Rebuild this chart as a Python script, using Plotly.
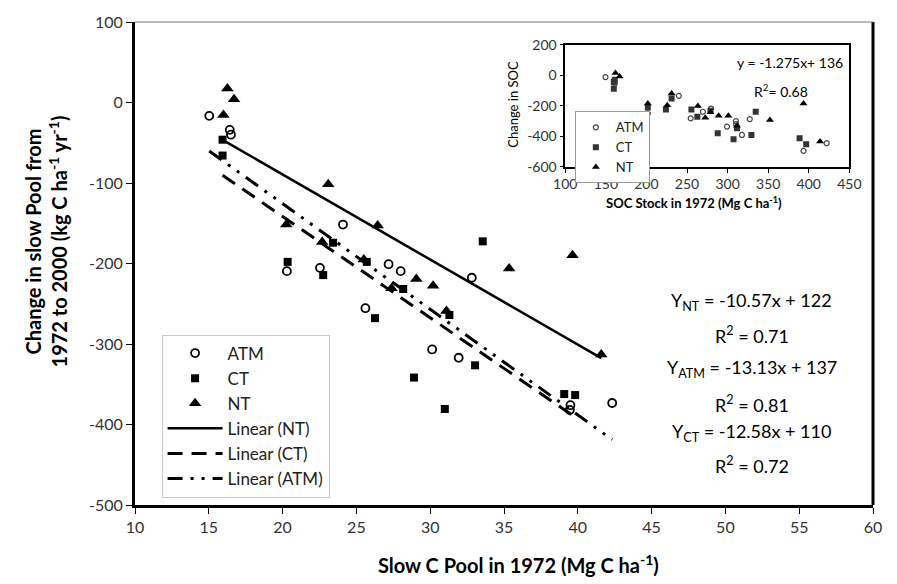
import plotly.graph_objects as go

# ---- main panel: slow C pool in 1972 vs change in slow pool ----
atm_x = [15.03, 16.42, 16.5, 24.09, 20.29, 22.53, 27.18, 28.0, 25.61, 30.13, 32.82, 31.93, 42.33, 39.46, 39.5]
atm_y = [-16.6, -34, -40, -151.6, -209.5, -205.4, -200.9, -209.5, -255.5, -306.8, -217.7, -317.1, -373.3, -381.9, -376]

ct_x = [15.93, 15.93, 23.42, 20.34, 22.75, 25.7, 28.17, 26.26, 28.9, 33.56, 31.3, 33.04, 30.99, 39.08, 39.82]
ct_y = [-46.2, -65.9, -174.2, -198, -214.4, -198, -231.7, -267.9, -341.7, -172.5, -264, -326.5, -380.7, -362.2, -363.4]

nt_x = [16.26, 16.71, 15.99, 23.09, 20.25, 26.44, 22.68, 25.5, 29.06, 30.2, 27.38, 35.35, 39.64, 31.1, 41.59]
nt_y = [17.5, 4, -15.4, -101.6, -151.6, -152.8, -173.4, -195, -219.3, -227.6, -230.9, -206.2, -189.8, -259, -313]

# fitted lines (slope, intercept) as printed on the chart
fit_nt = (-10.57, 122)
fit_atm = (-13.13, 137)
fit_ct = (-12.58, 110)
fit_labels = [
    ("Y<sub>NT</sub> = -10.57x + 122", "R<sup>2</sup> = 0.71"),
    ("Y<sub>ATM</sub> = -13.13x + 137", "R<sup>2</sup> = 0.81"),
    ("Y<sub>CT</sub> = -12.58x + 110", "R<sup>2</sup> = 0.72"),
]

# tick values (labels written with a plain hyphen)
x_ticks = list(range(10, 61, 5))
y_ticks = list(range(-500, 101, 100))

# ---- inset: SOC stock in 1972 vs change in SOC ----
in_atm_x = [149.6, 161, 201.7, 239.9, 254.5, 269.5, 279.7, 299.3, 310.2, 317.6, 327.3, 393.5, 422, 310.5]
in_atm_y = [-12, -55, -250, -135, -282, -239, -218, -336, -300, -391, -287, -495, -445, -320]
in_ct_x = [159.8, 159.8, 161, 201.7, 231, 224, 255.4, 262.7, 278.9, 287.8, 311.5, 307.3, 329.3, 334.6, 388.7, 396.8]
in_ct_y = [-44, -88, -30, -211, -152, -224, -224, -271, -232, -380, -347, -419, -391, -239, -412, -451]
in_nt_x = [161.8, 167, 201.7, 231, 225.6, 263.4, 272.4, 289, 300.9, 311.5, 352.1, 393.5, 413.9, 278.9]
in_nt_y = [14, -8, -185, -120, -196, -202, -278, -265, -265, -330, -293, -185, -434, -242]
in_x_ticks = list(range(100, 451, 50))
in_y_ticks = list(range(-600, 201, 200))

FONT = "Lato, 'Open Sans', sans-serif"


def line_pts(xs, fit):
    x0, x1 = min(xs), max(xs)
    m, b = fit
    return [x0, x1], [m * x0 + b, m * x1 + b]


def hy(v):
    return str(v).replace("\u2212", "-")


fig = go.Figure()

fig.add_trace(go.Scatter(x=atm_x, y=atm_y, mode="markers", name="ATM",
                         marker=dict(symbol="circle-open", size=8, color="black", line=dict(width=1.8))))
fig.add_trace(go.Scatter(x=ct_x, y=ct_y, mode="markers", name="CT",
                         marker=dict(symbol="square", size=8, color="black")))
fig.add_trace(go.Scatter(x=nt_x, y=nt_y, mode="markers", name="NT",
                         marker=dict(symbol="triangle-up", size=11, color="black")))

lx, ly = line_pts(nt_x, fit_nt)
fig.add_trace(go.Scatter(x=lx, y=ly, mode="lines", name="Linear (NT)",
                         line=dict(color="black", width=2.5)))
lx, ly = line_pts(ct_x, fit_ct)
fig.add_trace(go.Scatter(x=lx, y=ly, mode="lines", name="Linear (CT)",
                         line=dict(color="black", width=3, dash="15px,9px")))
lx, ly = line_pts(atm_x, fit_atm)
fig.add_trace(go.Scatter(x=lx, y=ly, mode="lines", name="Linear (ATM)",
                         line=dict(color="black", width=3, dash="15px,8px,3px,8px,3px,8px")))

# inset traces
fig.add_trace(go.Scatter(x=in_atm_x, y=in_atm_y, mode="markers", name="ATM", xaxis="x2", yaxis="y2",
                         legend="legend2",
                         marker=dict(symbol="circle-open", size=5, color="#444", line=dict(width=1.2))))
fig.add_trace(go.Scatter(x=in_ct_x, y=in_ct_y, mode="markers", name="CT", xaxis="x2", yaxis="y2",
                         legend="legend2",
                         marker=dict(symbol="square", size=6, color="#333")))
fig.add_trace(go.Scatter(x=in_nt_x, y=in_nt_y, mode="markers", name="NT", xaxis="x2", yaxis="y2",
                         legend="legend2",
                         marker=dict(symbol="triangle-up", size=7, color="black")))

annotations = []
# fit equations on the right
rows_y = [-247, -289, -330, -374, -410, -450]
texts = [t for pair in fit_labels for t in pair]
for t, yy in zip(texts, rows_y):
    annotations.append(dict(x=51.8, y=yy, xref="x", yref="y", text=t, showarrow=False,
                            font=dict(family=FONT, size=18, color="black"), xanchor="center"))

# inset equation
annotations.append(dict(x=444, y=81, xref="x2", yref="y2", text="y = -1.275x+ 136", showarrow=False,
                        xanchor="right", font=dict(family=FONT, size=14, color="black")))
annotations.append(dict(x=366, y=-100, xref="x2", yref="y2", text="R<sup>2</sup>= 0.68", showarrow=False,
                        xanchor="center", font=dict(family=FONT, size=14, color="black")))

# axis titles
annotations.append(dict(x=-0.121, y=0.545, xref="paper", yref="paper", textangle=-90,
                        xanchor="center", yanchor="middle",
                        text="<b>Change in slow Pool from<br>1972 to 2000 (kg C ha<sup>-1</sup> yr<sup>-1</sup>)</b>",
                        showarrow=False, font=dict(family=FONT, size=20, color="black")))
annotations.append(dict(x=0.52, y=-0.123, xref="paper", yref="paper", xanchor="center", yanchor="middle",
                        text="<b>Slow C Pool in 1972 (Mg C ha<sup>-1</sup>)</b>",
                        showarrow=False, font=dict(family=FONT, size=20, color="black")))
annotations.append(dict(x=0.513, y=0.83, xref="paper", yref="paper", textangle=-90,
                        xanchor="center", yanchor="middle",
                        text="Change in SOC", showarrow=False,
                        font=dict(family=FONT, size=13, color="black")))
annotations.append(dict(x=0.758, y=0.627, xref="paper", yref="paper", xanchor="center", yanchor="middle",
                        text="<b>SOC Stock in 1972 (Mg C ha<sup>-1</sup>)</b>", showarrow=False,
                        font=dict(family=FONT, size=13, color="black")))

shapes = [
    # right and top borders of the main frame
    dict(type="line", xref="paper", yref="paper", x0=1, x1=1, y0=0, y1=1,
         line=dict(color="black", width=3)),
    dict(type="line", xref="paper", yref="paper", x0=0, x1=1, y0=1, y1=1,
         line=dict(color="#777", width=1)),
]

fig.update_layout(
    width=897, height=584,
    margin=dict(l=135, r=17, t=18, b=79),
    paper_bgcolor="white", plot_bgcolor="white",
    font=dict(family=FONT, color="#333"),
    xaxis=dict(range=[10, 60], tickvals=x_ticks, ticktext=[hy(v) for v in x_ticks],
               showgrid=False, zeroline=False,
               showline=True, linecolor="black", linewidth=3,
               ticks="outside", ticklen=6, tickwidth=1, tickcolor="black",
               tickfont=dict(family=FONT, size=16, color="#333")),
    yaxis=dict(range=[-500, 100], tickvals=y_ticks, ticktext=[hy(v) for v in y_ticks],
               showgrid=False, zeroline=False,
               showline=True, linecolor="black", linewidth=3,
               ticks="outside", ticklen=6, tickwidth=1, tickcolor="black",
               tickfont=dict(family=FONT, size=16, color="#333")),
    xaxis2=dict(domain=[0.583, 0.968], anchor="y2", range=[100, 450],
                tickvals=in_x_ticks, ticktext=[hy(v) for v in in_x_ticks],
                showgrid=False, zeroline=False, showline=True, linecolor="black", linewidth=1.5,
                mirror=True, ticks="outside", ticklen=4, tickcolor="black",
                tickfont=dict(family=FONT, size=14, color="#333")),
    yaxis2=dict(domain=[0.700, 0.953], anchor="x2", range=[-600, 200],
                tickvals=in_y_ticks, ticktext=[hy(v) for v in in_y_ticks],
                showgrid=False, zeroline=False, showline=True, linecolor="black", linewidth=1.5,
                mirror=True, ticks="outside", ticklen=4, tickcolor="black",
                tickfont=dict(family=FONT, size=14, color="#333")),
    legend=dict(x=0.036, y=0.353, xanchor="left", yanchor="top",
                bordercolor="#c8c8c8", borderwidth=1, bgcolor="white", itemwidth=55,
                font=dict(family=FONT, size=17, color="#222"), tracegroupgap=0),
    legend2=dict(x=0.596, y=0.815, xanchor="left", yanchor="top",
                 bordercolor="#999", borderwidth=1, bgcolor="white", itemwidth=30,
                 font=dict(family=FONT, size=13, color="#222"), tracegroupgap=0),
    annotations=annotations,
    shapes=shapes,
    showlegend=True,
)

fig.write_html("out.html")
